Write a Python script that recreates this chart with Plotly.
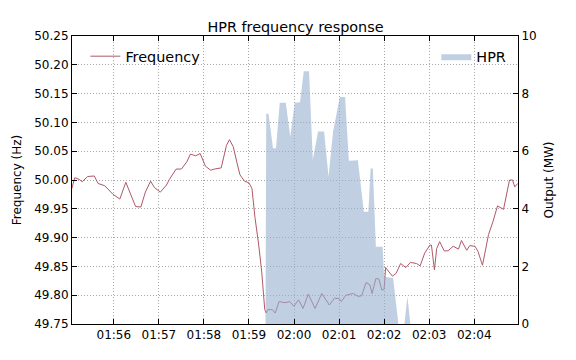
import pandas as pd
import plotly.graph_objects as go

# ---- data (seconds after 01:55:00) ----
base_time = "2017-01-01 01:55:00"

freq_sec = [4, 8, 14, 18, 25, 34, 39, 48, 59, 68,
            76, 82, 89, 96, 102, 109, 114, 122, 130, 134,
            143, 150, 157, 162, 169, 175, 182, 189, 194, 203,
            210, 214, 219, 224, 228, 234, 240, 244, 248, 253,
            257, 261, 263, 265, 271, 275, 280, 288, 294, 300,
            306, 312, 319, 328, 337, 347, 354, 360, 363, 369,
            379, 385, 390, 396, 401, 404, 409, 413, 417, 420,
            422, 431, 436, 442, 449, 455, 463, 468, 474, 481,
            483, 487, 490, 494, 500, 505, 512, 519, 523, 530,
            534, 541, 545, 551, 559, 565, 571, 579, 587, 591,
            594, 598]
freq_hz = [49.985, 50.004, 50.001, 49.997, 50.006, 50.007, 49.994, 49.990, 49.975, 49.967,
           49.996, 49.978, 49.954, 49.953, 49.979, 49.998, 49.987, 49.979, 49.991, 50.001,
           50.019, 50.019, 50.031, 50.045, 50.042, 50.046, 50.024, 50.017, 50.019, 50.021,
           50.060, 50.070, 50.058, 50.030, 50.009, 49.998, 49.995, 49.985, 49.935, 49.887,
           49.840, 49.775, 49.769, 49.775, 49.775, 49.769, 49.789, 49.787, 49.789, 49.781,
           49.792, 49.777, 49.802, 49.777, 49.803, 49.783, 49.795, 49.794, 49.789, 49.800,
           49.803, 49.798, 49.799, 49.822, 49.818, 49.803, 49.829, 49.828, 49.809, 49.810,
           49.848, 49.833, 49.838, 49.855, 49.848, 49.857, 49.855, 49.851, 49.873, 49.887,
           49.887, 49.844, 49.881, 49.893, 49.877, 49.877, 49.885, 49.880, 49.895, 49.878,
           49.886, 49.885, 49.876, 49.852, 49.905, 49.928, 49.955, 49.949, 50.000, 50.000,
           49.988, 49.994]

hpr_sec = [262, 263, 266, 272, 276, 281, 289, 295, 301, 308,
           313, 320, 325, 332, 340, 346, 352, 361, 368, 373,
           385, 393, 399, 402, 405, 409, 418, 420, 432, 439,
           447, 451, 455]
hpr_mw = [0, 7.3, 7.3, 6.1, 6.1, 7.68, 7.68, 6.5, 7.68, 7.7,
          8.78, 8.78, 5.7, 6.68, 6.68, 5.11, 6.68, 7.88, 7.88, 5.67,
          5.69, 3.9, 3.9, 5.4, 5.4, 2.68, 2.68, 1.64, 1.6, 0,
          0, 0.95, 0]

freq_ticks = [49.75, 49.80, 49.85, 49.90, 49.95, 50.00, 50.05, 50.10, 50.15, 50.20, 50.25]
mw_ticks = [0, 2, 4, 6, 8, 10]

t0 = pd.Timestamp(base_time)
freq_t = t0 + pd.to_timedelta(freq_sec, unit="s")
hpr_t = t0 + pd.to_timedelta(hpr_sec, unit="s")

FONT = "DejaVu Sans"
GRID = dict(showgrid=True, gridcolor="#a8a8a8", griddash="1px,2px", gridwidth=1)

fig = go.Figure()
fig.add_trace(go.Scatter(
    x=freq_t, y=freq_hz, mode="lines", name="Frequency",
    line=dict(color="#b05868", width=1), legend="legend", yaxis="y",
))
fig.add_trace(go.Scatter(
    x=hpr_t, y=hpr_mw, mode="lines", name="HPR", fill="tozeroy",
    fillcolor="rgba(150,175,205,0.6)", line=dict(width=0, color="rgba(150,175,205,0.6)"),
    legend="legend2", yaxis="y2",
))

axis_common = dict(showline=True, linecolor="black", linewidth=1, ticks="inside",
                   ticklen=5, tickcolor="black", tickfont=dict(size=12, color="black", family=FONT))

fig.update_layout(
    width=576, height=360,
    margin=dict(l=72, r=58, t=36, b=36),
    paper_bgcolor="white", plot_bgcolor="white",
    font=dict(family=FONT, color="black", size=12),
    title=dict(text="HPR frequency response", x=0.513, xanchor="center",
               y=0.925, yref="container", yanchor="middle", font=dict(size=14.4)),
    xaxis=dict(type="date", range=[t0 + pd.Timedelta(seconds=4.3), t0 + pd.Timedelta(seconds=598.3)],
               tickformat="%H:%M", dtick=60000, tick0=base_time, mirror="ticks",
               zeroline=False, **GRID, **axis_common),
    yaxis=dict(range=[49.75, 50.25], tickvals=freq_ticks, tickformat=".2f", mirror=True,
               zeroline=False, **GRID,
               title=dict(text="Frequency (Hz)", font=dict(size=12), standoff=10), **axis_common),
    yaxis2=dict(range=[0, 10], tickvals=mw_ticks, overlaying="y", side="right",
                showgrid=False, zeroline=False,
                title=dict(text="Output (MW)", font=dict(size=12), standoff=8), **axis_common),
    legend=dict(x=0.03, y=0.985, xanchor="left", yanchor="top", bgcolor="rgba(0,0,0,0)",
                font=dict(size=14.4), itemwidth=30),
    legend2=dict(x=0.985, y=0.985, xanchor="right", yanchor="top", bgcolor="rgba(0,0,0,0)",
                 font=dict(size=14.4), itemwidth=30),
    showlegend=True,
)

fig.write_html("out.html", post_script="document.body.style.margin='0';",
               config={"displayModeBar": False})
